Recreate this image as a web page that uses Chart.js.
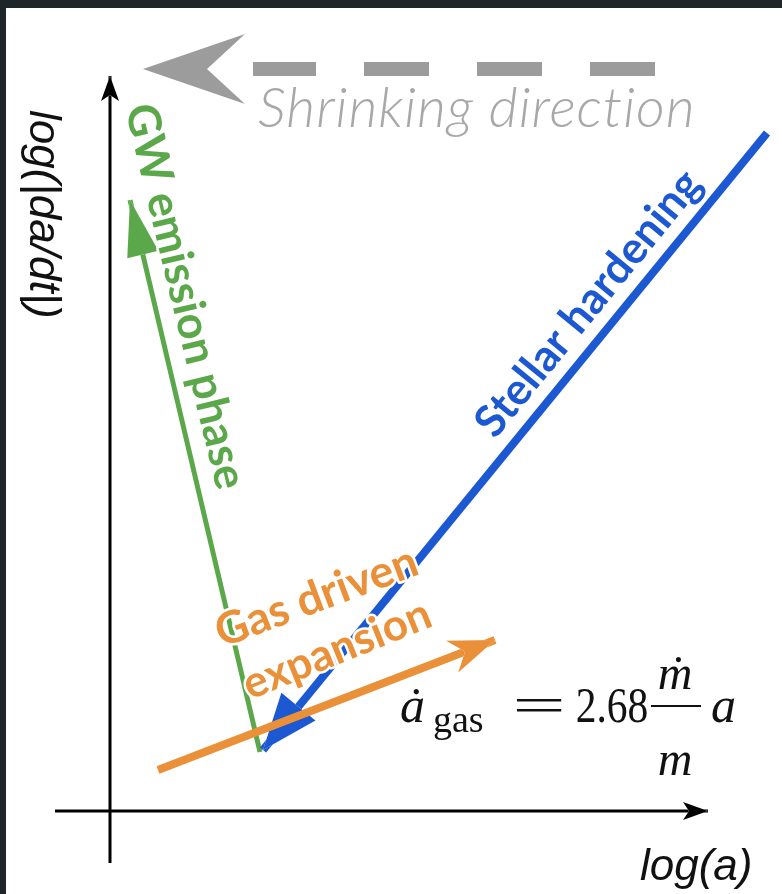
<!DOCTYPE html>
<html>
<head>
<meta charset="utf-8">
<script src="https://cdn.jsdelivr.net/npm/chart.js"></script>
<style>
  html, body { margin: 0; padding: 0; background: #1f2629; }
  #wrap { position: absolute; left: 6px; top: 8px; width: 776px; height: 886px; background: #fff; }
  canvas { display: block; }
</style>
</head>
<body>
<div id="wrap"><canvas id="chart" width="776" height="886"></canvas></div>
<script>
const gwX = [1.50, 0.20];
const gwY = [0.59, 6.11];
const stellarX = [6.57, 1.53];
const stellarY = [6.78, 0.61];
const gasX = [0.48, 3.85];
const gasY = [0.41, 1.71];
const aAxisX = [-0.55, 5.98];
const aAxisY = [0, 0];
const rateAxisX = [0, 0];
const rateAxisY = [-0.52, 7.35];
const shrinkX = [5.45, 1.43];
const shrinkY = [7.42, 7.42];
const shrinkTip = [0.33, 7.42];

const GREEN = "#5ba84a";
const BLUE = "#1c58d2";
const ORANGE = "#ea9038";
const GREY = "#9c9c9c";

function puntos(xs, ys) {
  return xs.map((x, i) => ({ x: x, y: ys[i] }));
}

// textos colocados en coordenadas del grafico
const etiquetas = [
  { text: "Shrinking direction", x: 1.48, y: 6.84, rot: 0, font: 'italic 300 56px Lato', color: "#a8a8a8", spacing: "1px" },
  { text: "log(|da/dt|)", x: -0.80, y: 7.01, rot: 90, font: 'italic 44px "Liberation Sans"', color: "#111" },
  { text: "log(a)", x: 5.30, y: -0.69, rot: 0, font: 'italic 44px "Liberation Sans"', color: "#111" },
  { text: "GW emission phase", x: 0.15, y: 7.03, rot: 76.5, font: 'bold 45px Lato', color: GREEN, halo: true },
  { text: "Stellar hardening", x: 3.85, y: 3.71, rot: -50.7, font: 'bold 44px Lato', color: BLUE, halo: true },
  { text: "Gas driven", x: 1.12, y: 1.63, rot: -20.5, font: 'bold 45px Lato', color: ORANGE, halo: true },
  { text: "expansion", x: 1.40, y: 1.11, rot: -22, font: 'bold 44px Lato', color: ORANGE, halo: true }
];

// formula: ancla en datos, piezas en pixeles relativos
const formulaAncla = { x: 2.90, y: 0.89 };
const SERIF = '"Liberation Serif", "DejaVu Serif", serif';
const formulaPiezas = [
  { t: "ȧ", dx: 0, dy: 0, font: "italic 50px " + SERIF, align: "left" },
  { t: "gas", dx: 33, dy: 10, font: "38px " + SERIF, align: "left" },
  { t: "=", dx: 139, dy: 0, font: "50px " + SERIF, align: "center", sx: 1.9 },
  { t: "2.68", dx: 212, dy: 0, font: "50px " + SERIF, align: "center", sx: 0.83 },
  { t: "ṁ", dx: 275, dy: -33, font: "italic 48px " + SERIF, align: "center" },
  { t: "m", dx: 275, dy: 53, font: "italic 48px " + SERIF, align: "center" },
  { t: "a", dx: 311, dy: 0, font: "italic 50px " + SERIF, align: "left" }
];

function puntaFlecha(chart, ds) {
  const a = ds.arrow;
  const xs = chart.scales.x, ys = chart.scales.y;
  const n = ds.data.length;
  const p0 = ds.data[n - 2], p1 = ds.data[n - 1];
  const ax = xs.getPixelForValue(p0.x), ay = ys.getPixelForValue(p0.y);
  const bx = xs.getPixelForValue(p1.x), by = ys.getPixelForValue(p1.y);
  let dx = bx - ax, dy = by - ay;
  const L = Math.hypot(dx, dy);
  dx /= L; dy /= L;
  let tx = bx, ty = by;
  if (a.tip) {
    tx = xs.getPixelForValue(a.tip[0]);
    ty = ys.getPixelForValue(a.tip[1]);
  }
  const nx = -dy, ny = dx;
  return [
    [tx, ty],
    [tx - a.len * dx + a.hw * nx, ty - a.len * dy + a.hw * ny],
    [tx - (a.len - a.notch) * dx, ty - (a.len - a.notch) * dy],
    [tx - a.len * dx - a.hw * nx, ty - a.len * dy - a.hw * ny]
  ];
}

function trazarPoligono(ctx, poly) {
  ctx.moveTo(poly[0][0], poly[0][1]);
  for (let i = 1; i < poly.length; i++) ctx.lineTo(poly[i][0], poly[i][1]);
  ctx.closePath();
}

const flechas = {
  id: "flechas",
  beforeDatasetDraw(chart, args) {
    const ds = chart.data.datasets[args.index];
    if (!ds.arrow) return;
    const ctx = chart.ctx;
    ctx.save();
    ctx.beginPath();
    ctx.rect(0, 0, chart.width, chart.height);
    trazarPoligono(ctx, puntaFlecha(chart, ds));
    ctx.clip("evenodd");
  },
  afterDatasetDraw(chart, args) {
    const ds = chart.data.datasets[args.index];
    if (!ds.arrow) return;
    const ctx = chart.ctx;
    ctx.restore();
    ctx.save();
    ctx.fillStyle = ds.borderColor;
    ctx.beginPath();
    trazarPoligono(ctx, puntaFlecha(chart, ds));
    ctx.fill();
    ctx.restore();
  }
};

const textos = {
  id: "textos",
  afterDatasetsDraw(chart) {
    const ctx = chart.ctx;
    const xs = chart.scales.x, ys = chart.scales.y;
    etiquetas.forEach(e => {
      ctx.save();
      ctx.translate(xs.getPixelForValue(e.x), ys.getPixelForValue(e.y));
      ctx.rotate(e.rot * Math.PI / 180);
      ctx.font = e.font;
      if (e.spacing) ctx.letterSpacing = e.spacing;
      ctx.textBaseline = "alphabetic";
      ctx.textAlign = "left";
      if (e.halo) {
        ctx.strokeStyle = "#fff";
        ctx.lineWidth = 5;
        ctx.lineJoin = "round";
        ctx.strokeText(e.text, 0, 0);
      }
      ctx.fillStyle = e.color;
      ctx.fillText(e.text, 0, 0);
      ctx.restore();
    });

    // formula del gas
    const ox = xs.getPixelForValue(formulaAncla.x);
    const oy = ys.getPixelForValue(formulaAncla.y);
    ctx.save();
    ctx.fillStyle = "#111";
    ctx.textBaseline = "alphabetic";
    formulaPiezas.forEach(p => {
      ctx.save();
      ctx.font = p.font;
      ctx.textAlign = p.align;
      ctx.translate(ox + p.dx, oy + p.dy);
      if (p.sx) ctx.scale(p.sx, 1);
      ctx.fillText(p.t, 0, 0);
      ctx.restore();
    });
    ctx.fillRect(ox + 251, oy - 17, 50, 2);
    ctx.restore();
  }
};

new Chart(document.getElementById("chart"), {
  type: "scatter",
  data: {
    datasets: [
      { data: puntos(gasX, gasY), borderColor: ORANGE, borderWidth: 8,
        arrow: { len: 46, hw: 17, notch: 14 } },
      { data: puntos(stellarX, stellarY), borderColor: BLUE, borderWidth: 8,
        arrow: { len: 56, hw: 22, notch: 0 } },
      { data: puntos(gwX, gwY), borderColor: GREEN, borderWidth: 5,
        arrow: { len: 56, hw: 16, notch: 0 } },
      { data: puntos(aAxisX, aAxisY), borderColor: "#000", borderWidth: 3,
        arrow: { len: 25, hw: 9, notch: 6 } },
      { data: puntos(rateAxisX, rateAxisY), borderColor: "#000", borderWidth: 3,
        arrow: { len: 25, hw: 9, notch: 6 } },
      { data: puntos(shrinkX, shrinkY), borderColor: GREY, borderWidth: 14, borderDash: [65, 48],
        arrow: { len: 102, hw: 35, notch: 38, tip: shrinkTip } }
    ].map(d => Object.assign({ showLine: true, pointRadius: 0, borderCapStyle: "butt", fill: false }, d))
  },
  options: {
    responsive: false,
    animation: false,
    devicePixelRatio: 1,
    layout: { padding: 0 },
    scales: {
      x: { type: "linear", min: -1.04, max: 6.72, display: false },
      y: { type: "linear", min: -0.83, max: 8.03, display: false }
    },
    plugins: {
      legend: { display: false },
      tooltip: { enabled: false }
    }
  },
  plugins: [flechas, textos]
});
</script>
</body>
</html>
